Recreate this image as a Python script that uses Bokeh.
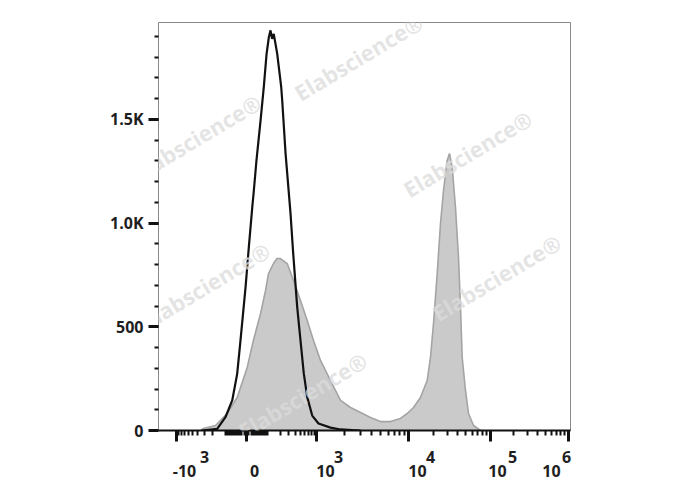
import numpy as np
from bokeh.plotting import figure
from bokeh.models import Range1d, FixedTicker, Label, LinearAxis
from bokeh.embed import file_html
from bokeh.resources import INLINE

# ---------------- data (fluorescence value, event count) ----------------
stained_values = [-352, -308, -175, -93, -41, 3, 30, 64, 91, 109, 143, 171, 202, 277, 368,
                  500, 670, 879, 1105, 1420, 1824, 2344, 3008, 3864, 4963, 6371, 8185, 9683,
                  11510, 13990, 16890, 18540, 20170, 22390, 24560, 26710, 29640, 31620, 34120,
                  37420, 40720, 43070, 45170, 49570, 53940, 62100, 75530]
stained_counts = [0, 10, 24, 82, 159, 304, 434, 564, 675, 757, 805, 829, 829, 805, 723,
                  627, 530, 434, 338, 241, 145, 111, 87, 63, 43, 43, 58, 82,
                  111, 159, 241, 352, 516, 757, 998, 1157, 1302, 1336, 1268,
                  1075, 834, 593, 352, 193, 82, 24, 0]

control_values = [-330, -161, -103, -65, -41, -26, -4, 10, 25, 32, 44, 64, 81, 97, 111, 122,
                  133, 145, 161, 173, 210, 220, 257, 322, 363, 433, 500, 577, 670, 831, 1051,
                  1420, 1824, 3008]
control_counts = [0, 8, 64, 145, 273, 434, 691, 884, 1077, 1157, 1302, 1495, 1655, 1816, 1896, 1929,
                  1888, 1912, 1856, 1816, 1655, 1591, 1336, 1046, 853, 595, 434, 275, 161, 72, 34,
                  14, 5, 0]

x_major_values = [-1000, 0, 1000, 10000, 100000, 1000000]
x_label_base = ["-10", "0", "10", "10", "10", "10"]
x_label_exp = ["3", "", "3", "4", "5", "6"]
x_minor_values = ([-v for v in range(100, 1000, 100)] + [-v for v in range(10, 100, 10)] +
                  list(range(10, 100, 10)) + list(range(100, 1000, 100)) +
                  [m * 10 ** e for e in (3, 4, 5) for m in range(2, 10)])

y_major_values = [0, 500, 1000, 1500]
y_major_labels = ["0", "500", "1.0K", "1.5K"]
y_minor_values = list(range(0, 2000, 100))

watermark_text = "Elabscience\u00ae"

# ---------------- biexponential-like display scale ----------------
DEC_EXP = [3, 4, 5, 6]
DEC_POS = [70, 162, 244, 322]


def disp(v):
    v = np.asarray(v, dtype=float)
    out = np.empty_like(v)
    a = np.abs(v)
    lin = a <= 1000
    out[lin] = 70 * np.arcsinh(v[lin] / 100) / np.arcsinh(10)
    hi = v > 1000
    out[hi] = np.interp(np.log10(v[hi]), DEC_EXP, DEC_POS)
    lo = v < -1000
    out[lo] = -70 - 80 * (np.log10(-v[lo]) - 3)
    return out


FONT = "Open Sans"
TXT = "#1e1e1e"

p = figure(width=688, height=490, output_backend="svg", toolbar_location=None,
           x_range=Range1d(-88, 324), y_range=Range1d(0, 1967),
           min_border_left=158, min_border_right=118, min_border_top=22, min_border_bottom=60)
p.background_fill_color = "white"
p.border_fill_color = "white"
p.outline_line_color = "#8a8a8a"
p.outline_line_width = 1
p.grid.visible = False

# stained sample (filled grey)
sx = disp(stained_values)
p.varea(x=sx, y1=np.zeros(len(sx)), y2=stained_counts, fill_color="#cacaca")
p.line(x=sx, y=stained_counts, line_color="#a4a4a4", line_width=1.6)

# isotype control (black line)
p.line(x=disp(control_values), y=control_counts, line_color="#111111", line_width=2.2)

# ---------------- axes ----------------
major_pos = [float(np.round(t)) for t in disp(x_major_values)]
xa = p.xaxis[0]
xa.ticker = FixedTicker(ticks=major_pos, minor_ticks=list(disp(x_minor_values)))
xa.major_label_overrides = {t: "" for t in major_pos}
xa.major_label_standoff = 0
xa.axis_line_color = "#111111"
xa.axis_line_width = 2
xa.major_tick_line_color = "#111111"
xa.major_tick_line_width = 3
xa.major_tick_in = 0
xa.major_tick_out = 11
xa.minor_tick_line_color = "#111111"
xa.minor_tick_line_width = 2
xa.minor_tick_in = 0
xa.minor_tick_out = 5

# x tick labels: raised exponent row and base row (offsets in screen px == data units)
base_dx = [8, 8, 9, 9, 7, -17]
exp_dx = [28, 0, 22, 22, 22, -2]
exp_ticks, exp_over, base_ticks, base_over = [], {}, [], {}
for t, b, e, bdx, edx in zip(major_pos, x_label_base, x_label_exp, base_dx, exp_dx):
    base_ticks.append(t + bdx)
    base_over[t + bdx] = b
    if e:
        exp_ticks.append(t + edx)
        exp_over[t + edx] = e


def label_axis(ticks, overrides, standoff):
    ax = LinearAxis(ticker=FixedTicker(ticks=ticks), major_label_overrides=overrides)
    ax.axis_line_color = None
    ax.major_tick_line_color = None
    ax.minor_tick_line_color = None
    ax.major_tick_out = 0
    ax.minor_tick_out = 0
    ax.major_label_standoff = standoff
    ax.major_label_text_font = FONT
    ax.major_label_text_font_size = "16px"
    ax.major_label_text_font_style = "bold"
    ax.major_label_text_color = TXT
    return ax


p.add_layout(label_axis(exp_ticks, exp_over, 9), "below")
p.add_layout(label_axis(base_ticks, base_over, -1), "below")

ya = p.yaxis[0]
ya.ticker = FixedTicker(ticks=y_major_values, minor_ticks=y_minor_values)
ya.major_label_overrides = {v: s for v, s in zip(y_major_values, y_major_labels)}
ya.major_label_text_font = FONT
ya.major_label_text_font_size = "16px"
ya.major_label_text_font_style = "bold"
ya.major_label_text_color = TXT
ya.major_label_standoff = 5
ya.axis_line_color = "#8a8a8a"
ya.axis_line_width = 1
ya.major_tick_line_color = "#111111"
ya.major_tick_line_width = 3
ya.major_tick_in = 0
ya.major_tick_out = 10
ya.minor_tick_line_color = "#111111"
ya.minor_tick_line_width = 2
ya.minor_tick_in = 0
ya.minor_tick_out = 4

# watermark
wm_x = [-50, 112, 221, -41, 250, 56]
wm_y = [1413, 1800, 1335, 699, 738, 169]
for wx, wy in zip(wm_x, wm_y):
    p.add_layout(Label(x=wx, y=wy, text=watermark_text, angle=0.54,
                       text_font=FONT, text_font_size="22px", text_font_style="bold",
                       text_color="#dcdcdc", text_alpha=0.75,
                       text_align="center", text_baseline="middle"))

open("out.html", "w").write(file_html(p, INLINE))
